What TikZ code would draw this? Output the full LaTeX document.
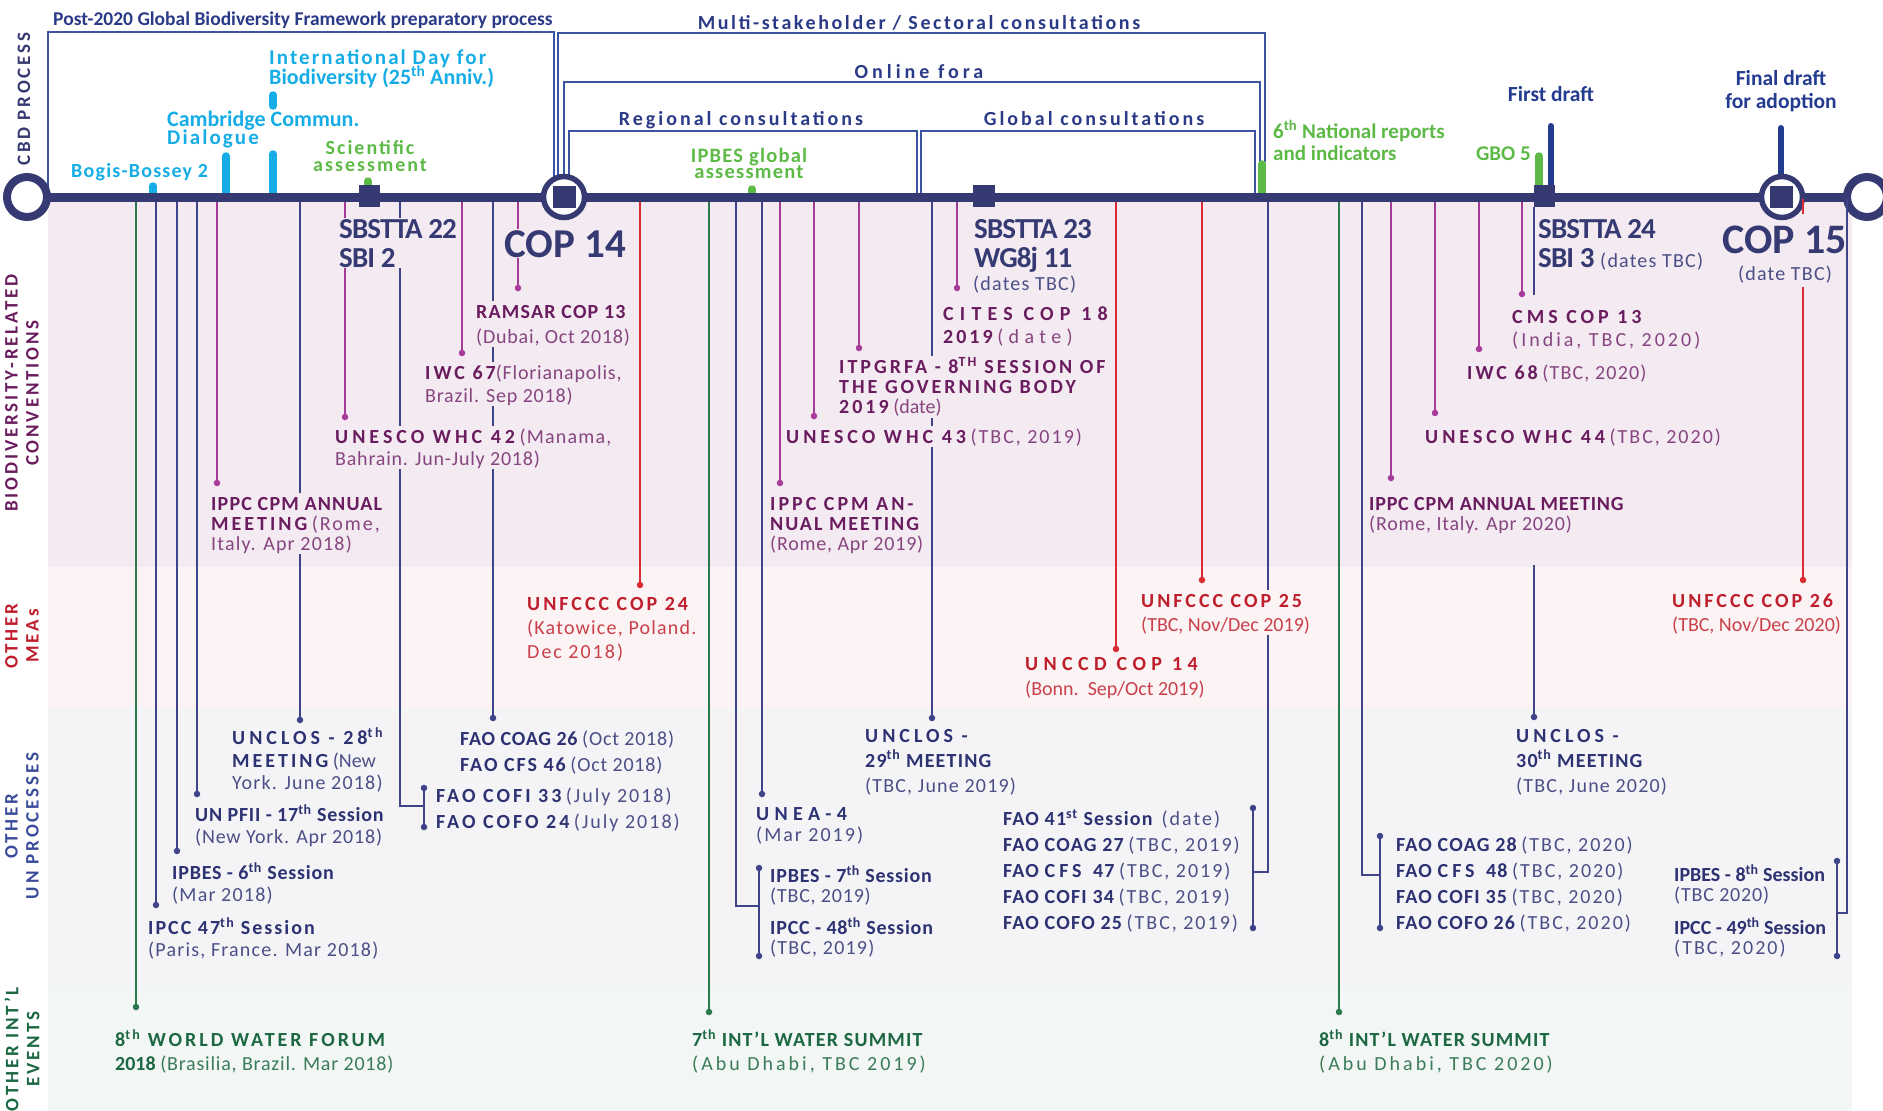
\documentclass[tikz,border=0pt]{standalone}
\usepackage{fontspec}
\setmainfont{Carlito}
\newfontfamily\rA[LetterSpace=4]{Carlito}
\newfontfamily\lsA[LetterSpace=6]{Carlito}
\newfontfamily\lsE[LetterSpace=10]{Carlito}
\newfontfamily\lsF[LetterSpace=13]{Carlito}
\newfontfamily\lsB[LetterSpace=15]{Carlito}
\newfontfamily\lsC[LetterSpace=20]{Carlito}
\newfontfamily\lsD[LetterSpace=27]{Carlito}
\newfontfamily\lsX[LetterSpace=31]{Carlito}
\newfontfamily\lsN[LetterSpace=-3]{Carlito}
\newcommand\fsz[2]{\fontsize{#1}{#2}\selectfont}
\newcommand\ms{\rule{0pt}{16pt}}
\newcommand\supx[1]{\textsuperscript{#1}}
\definecolor{tl}{HTML}{363A72}
\definecolor{brk}{HTML}{3A54A2}
\definecolor{brkT}{HTML}{2B3A86}
\definecolor{cyanM}{HTML}{16ADE6}
\definecolor{grnM}{HTML}{5DBA47}
\definecolor{fdraft}{HTML}{233C8F}
\definecolor{navyT}{HTML}{2D3272}
\definecolor{navyR}{HTML}{4B4F86}
\definecolor{navyL}{HTML}{3F4488}
\definecolor{purB}{HTML}{6A1C5E}
\definecolor{purR}{HTML}{87457F}
\definecolor{purL}{HTML}{A73B98}
\definecolor{redB}{HTML}{BF1E2D}
\definecolor{redR}{HTML}{C9404A}
\definecolor{redL}{HTML}{DA2A32}
\definecolor{grnB}{HTML}{1C6842}
\definecolor{grnR}{HTML}{3A7C59}
\definecolor{grnL}{HTML}{2A7A4E}
\definecolor{bandB}{HTML}{F3EAF2}
\definecolor{bandM}{HTML}{FCF3F4}
\definecolor{bandU}{HTML}{F4F4F7}
\definecolor{bandE}{HTML}{F2F6F4}
\definecolor{unlab}{HTML}{3B4C9B}
\newcommand\bfP[1]{{\color{purB}\bfseries #1}}
\newcommand\bfN[1]{{\color{navyT}\bfseries #1}}
\newcommand\bfR[1]{{\color{redB}\bfseries #1}}
\newcommand\bfG[1]{{\color{grnB}\bfseries #1}}
\begin{document}
\begin{tikzpicture}[x=1pt,y=-1pt,
  lab/.style={anchor=north west, inner sep=1pt, align=left},
  lb/.style={lab, fill=bandB, text=purR},
  lm/.style={lab, fill=bandM, text=redR},
  lu/.style={lab, fill=bandU, text=navyR},
  le/.style={lab, fill=bandE, text=grnR},
  cn/.style={line width=1.6pt},
  dot/.style={circle, inner sep=0pt, minimum size=6.5pt},
  brkline/.style={draw=brk, line width=2pt},
  bar/.style={line width=7.5pt, line cap=round},
  side/.style={rotate=90, align=center, font=\fsz{19}{21}\lsB\bfseries},
  cbdbig/.style={font=\fsz{29}{29}\lsN\bfseries, text=tl}
]
\useasboundingbox (0,0) rectangle (1883,1111);
% bands
\fill[bandB] (48,201) rectangle (1852,567);
\fill[bandM] (48,567) rectangle (1852,707);
\fill[bandU] (48,707) rectangle (1852,986);
\fill[bandE] (48,986) rectangle (1852,1111);

% side labels
\node[side, text=tl] (sCBD) at (24,99) {CBD PROCESS};
\node[side, text=purB] (sBIO) at (22,393) {BIODIVERSITY-RELATED\\CONVENTIONS};
\node[side, text=redB] (sMEA) at (22,636) {OTHER\\MEAs};
\node[side, text=unlab] (sUN) at (22,826) {OTHER\\UN PROCESSES};
\node[side, text=grnB] (sEV) at (22,1049) {OTHER INT’L\\EVENTS};

% ---- connectors: navy
\foreach \x/\y in {156/905,177/851,197/794,300/720,493/718,762/794,932/718}
  \draw[cn,draw=navyL] (\x,199) -- (\x,\y) node[dot,fill=navyL]{};
\draw[cn,draw=navyL] (400,199) |- (424,806);
\draw[cn,draw=navyL] (424,788) node[dot,fill=navyL](b1t){} -- (424,827) node[dot,fill=navyL](b1b){};
\draw[cn,draw=navyL] (736,199) |- (759,906);
\draw[cn,draw=navyL] (759,868) node[dot,fill=navyL](b2t){} -- (759,956) node[dot,fill=navyL](b2b){};
\draw[cn,draw=navyL] (1268,199) |- (1253,872);
\draw[cn,draw=navyL] (1253,808) node[dot,fill=navyL](b3t){} -- (1253,928) node[dot,fill=navyL](b3b){};
\draw[cn,draw=navyL] (1362,199) |- (1380,875);
\draw[cn,draw=navyL] (1380,836) node[dot,fill=navyL](b4t){} -- (1380,928) node[dot,fill=navyL](b4b){};
% green
\foreach \x/\y in {136/1007,709/1012,1339/1012}
  \draw[cn,draw=grnL] (\x,199) -- (\x,\y) node[dot,fill=grnL]{};
% magenta
\foreach \x/\y in {217/483,345/417,462/353,518/288,780/483,814/416,859/348,957/288,1391/478,1435/413,1479/349,1522/294}
  \draw[cn,draw=purL] (\x,199) -- (\x,\y) node[dot,fill=purL]{};
% red
\foreach \x/\y in {640/585,1116/649,1202/580}
  \draw[cn,draw=redL] (\x,199) -- (\x,\y) node[dot,fill=redL]{};

% bracket boxes
\draw[brkline] (48,194) -- (48,32) -- (554,32) -- (554,192);
\draw[brkline] (558,178) -- (558,33) -- (1265,33) -- (1265,162);
\draw[brkline] (564,176) -- (564,82) -- (1260,82) -- (1260,194);
\draw[brkline] (569,176) -- (569,131) -- (917,131) -- (917,194);
\draw[brkline] (921,194) -- (921,131) -- (1255,131) -- (1255,194);

% markers
\draw[bar, cyanM] (153,186) -- (153,196);
\draw[bar, cyanM] (226,156) -- (226,196);
\draw[bar, cyanM] (273,95) -- (273,106);
\draw[bar, cyanM] (273,154) -- (273,196);
\draw[bar, grnM] (368,181) -- (368,190);
\draw[bar, grnM] (752,189) -- (752,196);
\draw[bar, grnM] (1262,164) -- (1262,196);
\draw[bar, grnM] (1539,156) -- (1539,190);
\draw[line width=6pt, line cap=round, fdraft] (1551,126) -- (1551,190);
\draw[line width=6pt, line cap=round, fdraft] (1781,128) -- (1781,175);

% timeline
\draw[line width=9pt, tl] (45,197) -- (1848,197);
\draw[line width=8pt, tl, fill=white] (27,197) circle (20);
\draw[line width=8pt, tl, fill=white] (1867,197) circle (20);
\draw[line width=5.5pt, tl, fill=white] (564,197) circle (20.5);
\draw[line width=5.5pt, tl, fill=white] (1782,197) circle (20.5);
\fill[tl] (553,186) rectangle (576,208);
\fill[tl] (1770,186) rectangle (1793,208);
\fill[tl] (359,185) rectangle (380,207);
\fill[tl] (973,185) rectangle (995,207);
\fill[tl] (1534,185) rectangle (1555,207);

% special broken lines
\draw[cn,draw=navyL] (1534,207) -- (1534,295);
\draw[cn,draw=navyL] (1534,565) -- (1534,717) node[dot,fill=navyL](dU30){};
\draw[cn,draw=redL] (1803,199) -- (1803,214);
\draw[cn,draw=redL] (1803,287) -- (1803,580) node[dot,fill=redL](dC26){};

% top headings
\node[anchor=base west, inner sep=0, font=\fsz{19.5}{20}\bfseries, text=brkT] (hPost) at (53,25) {Post-2020 Global Biodiversity Framework preparatory process};
\node[anchor=base, inner sep=0, font=\fsz{20}{20}\lsF\bfseries, text=brkT] (hMulti) at (919,29) {Multi-stakeholder / Sectoral consultations};
\node[anchor=base, inner sep=0, font=\fsz{20}{20}\lsC\bfseries, text=brkT] (hOnline) at (919,78) {Online fora};
\node[anchor=base, inner sep=0, font=\fsz{20}{20}\lsB\bfseries, text=brkT] (hReg) at (741,125) {Regional consultations};
\node[anchor=base, inner sep=0, font=\fsz{20}{20}\lsB\bfseries, text=brkT] (hGlob) at (1094,125) {Global consultations};

% cyan / green labels
\node[anchor=base west, inner sep=0, font=\fsz{20}{20}\lsA\bfseries, text=cyanM] (tBogis) at (71,177) {Bogis-Bossey 2};
\node[anchor=base west, inner sep=0, font=\fsz{22}{22}\bfseries, text=cyanM] (tCamb) at (167,126) {Cambridge Commun.};
\node[anchor=base west, inner sep=0, font=\fsz{21}{21}\lsE\bfseries, text=cyanM] (tDial) at (167,144) {Dialogue};
\node[anchor=base west, inner sep=0, font=\fsz{21}{21}\lsE\bfseries, text=cyanM] (tIDB1) at (269,64) {International Day for};
\node[anchor=base west, inner sep=0, font=\fsz{22}{22}\bfseries, text=cyanM] (tIDB2) at (269,84) {Biodiversity (25\supx{th} Anniv.)};
\node[anchor=base, inner sep=0, font=\fsz{20}{20}\lsE\bfseries, text=grnM] (tSci1) at (370,154) {Scientific};
\node[anchor=base, inner sep=0, font=\fsz{20}{20}\lsE\bfseries, text=grnM] (tSci2) at (370,171) {assessment};
\node[anchor=base, inner sep=0, font=\fsz{20.5}{20}\lsA\bfseries, text=grnM] (tIpb1) at (749,162) {IPBES global};
\node[anchor=base, inner sep=0, font=\fsz{20.5}{20}\lsA\bfseries, text=grnM] (tIpb2) at (749,178) {assessment};
\node[anchor=base west, inner sep=0, font=\fsz{21}{21}\bfseries, text=grnM] (tNR1) at (1273,138) {6\supx{th} National reports};
\node[anchor=base west, inner sep=0, font=\fsz{21}{21}\bfseries, text=grnM] (tNR2) at (1273,160) {and indicators};
\node[anchor=base east, inner sep=0, font=\fsz{21}{21}\bfseries, text=grnM] (tGBO) at (1531,160) {GBO 5};
\node[anchor=base, inner sep=0, font=\fsz{21.5}{20}\bfseries, text=fdraft] (tFirst) at (1551,101) {First draft};
\node[anchor=base, inner sep=0, font=\fsz{21.5}{20}\bfseries, text=fdraft] (tFin1) at (1781,85) {Final draft};
\node[anchor=base, inner sep=0, font=\fsz{21.5}{20}\bfseries, text=fdraft] (tFin2) at (1781,108) {for adoption};

% CBD meetings
\node[anchor=north west, inner sep=1pt, align=left, fill=bandB, cbdbig] (sb22) at (338,218) {\rule{0pt}{19pt}SBSTTA 22\\SBI 2};
\node[anchor=base west, inner sep=1pt, fill=bandB, font=\fsz{41}{41}\bfseries, text=tl] (cop14) at (503,257) {COP 14};
\node[anchor=north west, inner sep=1pt, align=left, cbdbig] (sb23) at (973,218) {\rule{0pt}{19pt}SBSTTA 23\\WG8j 11};
\node[anchor=base west, inner sep=0, font=\fsz{20}{20}\lsA, text=navyR] (sb23d) at (973,290) {(dates TBC)};
\node[anchor=north west, inner sep=1pt, align=left, cbdbig] (sb24) at (1537,218) {\rule{0pt}{19pt}SBSTTA 24\\SBI 3 {\fsz{20}{20}\mdseries\lsA\color{navyR}(dates TBC)}};
\node[anchor=base west, inner sep=0, font=\fsz{42}{42}\bfseries, text=tl] (cop15) at (1722,253) {COP 15};
\node[anchor=base, inner sep=0, font=\fsz{20}{20}\lsA, text=navyR] (cop15d) at (1785,280) {(date TBC)};

% biodiversity band labels
\node[lb, font=\fsz{20}{25}] (rams) at (475,301) {\ms\bfP{\lsA RAMSAR COP 13}\\{\rA(Dubai, Oct 2018)}};
\node[lb, font=\fsz{20}{23}] (iwc67) at (424,362) {\ms\bfP{\lsB IWC 67}{\rA(Florianapolis,}\\{\rA Brazil. Sep 2018)}};
\node[lb, font=\fsz{20}{22}] (whc42) at (334,426) {\ms\bfP{\lsC UNESCO WHC 42} {\lsA(Manama,}\\{\rA Bahrain. Jun-July 2018)}};
\node[lb, font=\fsz{20}{20}] (ippc18) at (210,493) {\ms\bfP{\lsA IPPC CPM ANNUAL}\\\bfP{\lsB MEETING} {\lsE(Rome,}\\{\lsA Italy. Apr 2018)}};
\node[lb, font=\fsz{20}{23}] (cites) at (942,303) {\ms\bfP{\lsX CITES COP 18}\\\bfP{\lsB 2019} {\lsD(date)}};
\node[lb, font=\fsz{20}{20}] (itpg) at (838,356) {\ms\bfP{\lsB ITPGRFA - 8\supx{TH} SESSION OF}\\\bfP{\lsB THE GOVERNING BODY}\\\bfP{\lsB 2019} (date)};
\node[lb, font=\fsz{20}{22}] (whc43) at (785,426) {\ms\bfP{\lsC UNESCO WHC 43}\ {\lsE(TBC, 2019)}};
\node[lb, font=\fsz{20}{20}] (ippc19) at (769,493) {\ms\bfP{\lsB IPPC CPM AN-}\\\bfP{\lsE NUAL MEETING}\\{\rA(Rome, Apr 2019)}};
\node[lb, font=\fsz{20}{23}] (cms) at (1511,306) {\ms\bfP{\lsC CMS COP 13}\\{\lsB(India, TBC, 2020)}};
\node[lb, font=\fsz{20}{22}] (iwc68) at (1466,362) {\ms\bfP{\lsB IWC 68}\ {\lsA(TBC,\ 2020)}};
\node[lb, font=\fsz{20}{22}] (whc44) at (1424,426) {\ms\bfP{\lsC UNESCO WHC 44}\ {\lsE(TBC, 2020)}};
\node[lb, font=\fsz{20}{20}] (ippc20) at (1368,493) {\ms\bfP{\rA IPPC CPM ANNUAL MEETING}\\{\rA(Rome, Italy. Apr 2020)}};

% other MEAs
\node[lm, font=\fsz{20}{24}] (c24) at (526,593) {\ms\bfR{\lsB UNFCCC COP 24}\\{\lsA(Katowice, Poland.}\\{\lsE Dec 2018)}};
\node[lm, font=\fsz{20}{25}] (unccd) at (1024,653) {\ms\bfR{\lsD UNCCD COP 14}\\(Bonn.\ \ Sep/Oct 2019)};
\node[lm, font=\fsz{20}{24}] (c25) at (1140,590) {\ms\bfR{\lsB UNFCCC COP 25}\\(TBC, Nov/Dec 2019)};
\node[lm, font=\fsz{20}{24}] (c26) at (1671,590) {\ms\bfR{\lsB UNFCCC COP 26}\\(TBC, Nov/Dec 2020)};

% other UN processes
\node[lu, font=\fsz{20}{22.5}] (u28) at (231,726) {\ms\bfN{\lsC UNCLOS - 28\supx{th}}\\\bfN{\lsB MEETING} (New\\{\lsA York. June 2018)}};
\node[lu, font=\fsz{20}{22}] (pfii) at (194,803) {\ms\bfN{\rA UN PFII - 17\supx{th} Session}\\{\rA(New York. Apr 2018)}};
\node[lu, font=\fsz{20}{22}] (ipb6) at (171,861) {\ms\bfN{\rA IPBES - 6\supx{th} Session}\\{\lsA(Mar 2018)}};
\node[lu, font=\fsz{20}{22}] (ipc47) at (147,916) {\ms\bfN{\lsE IPCC 47\supx{th} Session}\\{\lsA(Paris, France. Mar 2018)}};
\node[lu, font=\fsz{20}{26}] (coag26) at (459,728) {\ms\bfN{\rA FAO COAG 26} {\rA(Oct 2018)}\\\bfN{\lsE FAO CFS 46} {\rA(Oct 2018)}};
\node[lu, font=\fsz{20}{26}] (cofi33) at (435,785) {\ms\bfN{\lsB FAO COFI 33} {\lsE(July 2018)}\\\bfN{\lsB FAO COFO 24} {\lsE(July 2018)}};
\node[lu, font=\fsz{20}{21}] (unea) at (755,803) {\ms\bfN{\lsD UNEA-4}\\{\lsE(Mar 2019)}};
\node[lu, font=\fsz{20}{25}] (u29) at (864,725) {\ms\bfN{\lsC UNCLOS -}\\\bfN{\lsA 29\supx{th} MEETING}\\{\lsA(TBC, June 2019)}};
\node[lu, font=\fsz{20}{20}] (ipb7) at (769,864) {\ms\bfN{\rA IPBES - 7\supx{th} Session}\\{\rA(TBC, 2019)}};
\node[lu, font=\fsz{20}{20}] (ipc48) at (769,916) {\ms\bfN{\rA IPCC - 48\supx{th} Session}\\{\lsA(TBC, 2019)}};
\node[lu, font=\fsz{20}{26}] (fao41) at (1002,808) {\ms\bfN{\lsA FAO 41\supx{st} Session}\ \ {\lsE(date)}\\\bfN{\lsA FAO COAG 27} {\lsE(TBC, 2019)}\\\bfN{\lsA FAO {\lsC CFS}\ \ 47} {\lsE(TBC, 2019)}\\\bfN{\lsA FAO COFI 34} {\lsE(TBC, 2019)}\\\bfN{\lsA FAO COFO 25} {\lsE(TBC, 2019)}};
\node[lu, font=\fsz{20}{25}] (u30) at (1515,725) {\ms\bfN{\lsC UNCLOS -}\\\bfN{\lsA 30\supx{th} MEETING}\\{\lsA(TBC, June 2020)}};
\node[lu, font=\fsz{20}{26}] (coag28) at (1395,834) {\ms\bfN{\lsA FAO COAG 28} {\lsE(TBC, 2020)}\\\bfN{\lsA FAO {\lsC CFS}\ \ 48} {\lsE(TBC, 2020)}\\\bfN{\lsA FAO COFI 35} {\lsE(TBC, 2020)}\\\bfN{\lsA FAO COFO 26} {\lsE(TBC, 2020)}};
\node[lab, text=navyR, font=\fsz{20}{20}] (ipb8) at (1673,863) {\ms\bfN{IPBES - 8\supx{th} Session}\\{\rA(TBC 2020)}};
\node[lab, text=navyR, font=\fsz{20}{20}] (ipc49) at (1673,916) {\ms\bfN{IPCC - 49\supx{th} Session}\\{\lsE(TBC, 2020)}};
\draw[cn,draw=navyL] (1847,199) |- (1837,913);
\draw[cn,draw=navyL] (1837,861) node[dot,fill=navyL](b5t){} -- (1837,956) node[dot,fill=navyL](b5b){};

% other int'l events
\node[le, font=\fsz{20}{24}] (wwf) at (114,1028) {\ms\bfG{\lsB 8\supx{th} WORLD WATER FORUM}\\\bfG{2018} {\rA(Brasilia, Brazil. Mar 2018)}};
\node[le, font=\fsz{20}{24}] (iws7) at (691,1028) {\ms\bfG{\lsA 7\supx{th} INT’L WATER SUMMIT}\\{\lsB(Abu Dhabi, TBC 2019)}};
\node[le, font=\fsz{20}{24}] (iws8) at (1318,1028) {\ms\bfG{\lsA 8\supx{th} INT’L WATER SUMMIT}\\{\lsB(Abu Dhabi, TBC 2020)}};
\end{tikzpicture}
\end{document}
